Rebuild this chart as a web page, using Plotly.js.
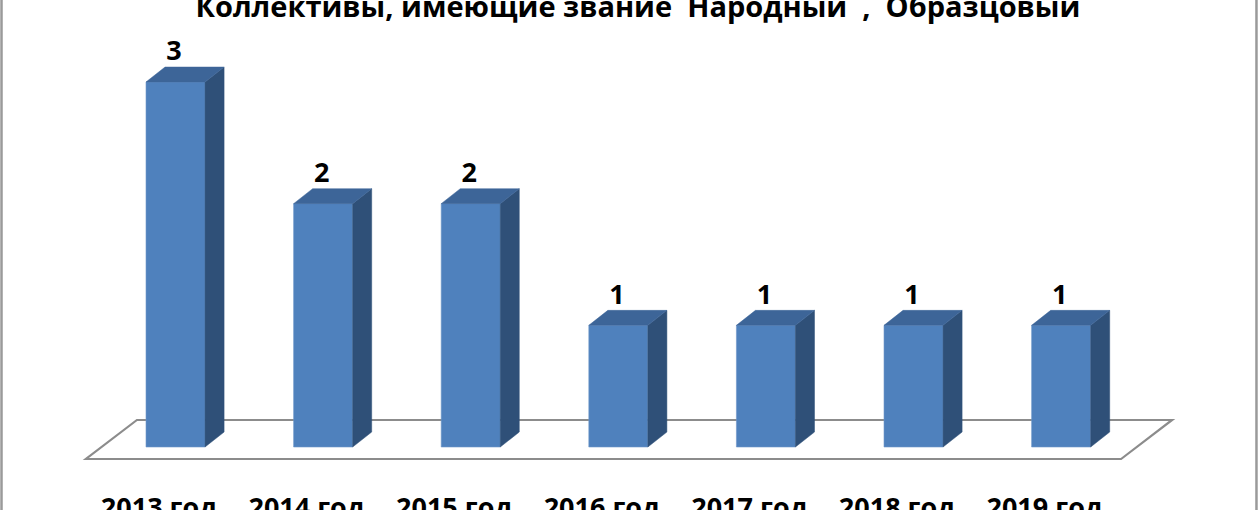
<!DOCTYPE html>
<html>
<head>
<meta charset="utf-8">
<script src="https://cdn.plot.ly/plotly-3.0.0.min.js"></script>
<style>html,body{margin:0;padding:0;background:#fff;}#chart{width:1260px;height:510px;}</style>
</head>
<body>
<div id="chart"></div>
<script>
// ---- data ----
const categories = ['2013 год', '2014 год', '2015 год', '2016 год', '2017 год', '2018 год', '2019 год'];
const values = [3, 2, 2, 1, 1, 1, 1];
const chartTitle = 'Коллективы, имеющие звание  Народный  ,  Образцовый';

// ---- 3D styling constants (axis units) ----
const SHIFT = 0.112;   // bars sit slightly behind/right of the label positions
const HALF = 0.2;      // half bar width
const DX = 0.129;      // depth offset, x
const DY = 0.123;      // depth offset, y
const FRONT = '#4F81BD', TOP = '#3D6598', SIDE = '#2F5078';

const xs = categories.map((c, i) => i + SHIFT);

const front = {
  type: 'bar', x: xs, y: values, width: values.map(() => 2 * HALF),
  marker: {color: FRONT, line: {color: '#6F97C9', width: 0.6}},
  hoverinfo: 'skip', showlegend: false
};

const topX = [], topY = [], sideX = [], sideY = [];
xs.forEach((x, i) => {
  const v = values[i], x0 = x - HALF, x1 = x + HALF;
  topX.push(x0, x1, x1 + DX, x0 + DX, x0, null);
  topY.push(v, v, v + DY, v + DY, v, null);
  sideX.push(x1, x1 + DX, x1 + DX, x1, x1, null);
  sideY.push(0, DY, v + DY, v, 0, null);
});
const topFace = {type: 'scatter', mode: 'lines', x: topX, y: topY, fill: 'toself',
  fillcolor: TOP, line: {color: TOP, width: 0.5}, hoverinfo: 'skip', showlegend: false};
const sideFace = {type: 'scatter', mode: 'lines', x: sideX, y: sideY, fill: 'toself',
  fillcolor: SIDE, line: {color: SIDE, width: 0.5}, hoverinfo: 'skip', showlegend: false};

const labels = {
  type: 'scatter', mode: 'text', x: xs.map(x => x - 0.01), y: values.map(v => v + DY),
  text: values.map(String), textposition: 'top center',
  textfont: {family: 'Open Sans, Arial, sans-serif', size: 27, color: '#000', weight: 'bold'},
  hoverinfo: 'skip', showlegend: false, cliponaxis: false
};

// floor parallelogram
const n = categories.length;
const fl = {fx0: -0.495, fx1: n - 1 + 0.518, fy: -0.0986, bdx: 0.3455, by: 0.222};
const floorPath = `M ${fl.fx0} ${fl.fy} L ${fl.fx1} ${fl.fy} L ${fl.fx1 + fl.bdx} ${fl.by} L ${fl.fx0 + fl.bdx} ${fl.by} Z`;

const layout = {
  width: 1260, height: 510,
  margin: {l: 0, r: 0, t: 0, b: 40},
  paper_bgcolor: '#fff', plot_bgcolor: 'rgba(0,0,0,0)',
  title: {text: '<b>' + chartTitle + '</b>', x: 0.5063, xanchor: 'center', xref: 'paper',
    y: 0.9875, yanchor: 'middle', yref: 'container',
    font: {family: 'Open Sans, Arial, sans-serif', size: 29, color: '#000'}},
  xaxis: {range: [-1.0772, 7.4593], tickvals: categories.map((c, i) => i), ticktext: categories,
    showgrid: false, zeroline: false, showline: false, ticks: '',
    ticklabelstandoff: 19,
    tickfont: {family: 'Open Sans, Arial, sans-serif', size: 27, color: '#000', weight: 'bold'}},
  yaxis: {range: [-0.189, 3.674], showgrid: false, zeroline: false, showline: false,
    showticklabels: false, ticks: ''},
  shapes: [
    {type: 'path', path: floorPath, xref: 'x', yref: 'y', line: {color: '#8C8C8C', width: 2.2},
      fillcolor: 'rgba(0,0,0,0)', layer: 'below'},
    {type: 'line', xref: 'paper', yref: 'paper', x0: 0.0012, x1: 0.0012, y0: -0.2, y1: 1.2,
      line: {color: '#9A9A9A', width: 2.5}},
    {type: 'line', xref: 'paper', yref: 'paper', x0: 0.9972, x1: 0.9972, y0: -0.2, y1: 1.2,
      line: {color: '#9A9A9A', width: 2.5}}
  ],
  showlegend: false
};

Plotly.newPlot('chart', [front, sideFace, topFace, labels], layout, {displayModeBar: false, staticPlot: true});
</script>
</body>
</html>
